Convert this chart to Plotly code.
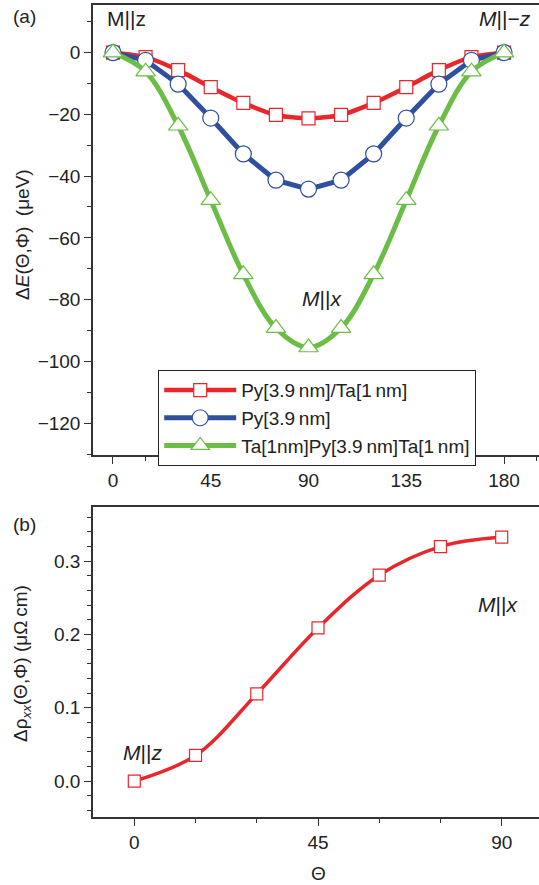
import plotly.graph_objects as go

# ---- data (a) ----
theta_a = [0, 15, 30, 45, 60, 75, 90, 105, 120, 135, 150, 165, 180]
e_pyta = [0, -1.5, -5.7, -11.2, -16.3, -20.2, -21.3, -20.2, -16.3, -11.2, -5.7, -1.5, 0]
e_py = [0, -2.5, -10.2, -21.2, -32.8, -41.3, -44.2, -41.3, -32.8, -21.2, -10.2, -2.5, 0]
e_tapyta = [0, -6.2, -23.7, -47.8, -71.8, -89.2, -95.5, -89.2, -71.8, -47.8, -23.7, -6.2, 0]
names_a = ["Py[3.9\u2009nm]/Ta[1\u2009nm]", "Py[3.9\u2009nm]", "Ta[1nm]Py[3.9\u2009nm]Ta[1\u2009nm]"]
xticks_a = [0, 45, 90, 135, 180]
yticks_a = [0, -20, -40, -60, -80, -100, -120]

# ---- data (b) ----
theta_b = [0, 15, 30, 45, 60, 75, 90]
rho_b = [0.0, 0.035, 0.119, 0.209, 0.281, 0.320, 0.333]
xticks_b = [0, 45, 90]
yticks_b = [0.0, 0.1, 0.2, 0.3]

RED = "#e8262b"
BLUE = "#2f4f9f"
GREEN = "#6bbd45"
FONT = "Liberation Sans, Arial, sans-serif"
W, H = 539, 885

fig = go.Figure()
fig.add_trace(go.Scatter(x=theta_a, y=e_pyta, name=names_a[0], mode="lines+markers",
                         line=dict(color=RED, width=4.5, shape="spline", smoothing=0.6),
                         marker=dict(symbol="square", size=13, color="white", line=dict(color=RED, width=1.2)),
                         xaxis="x", yaxis="y"))
fig.add_trace(go.Scatter(x=theta_a, y=e_py, name=names_a[1], mode="lines+markers",
                         line=dict(color=BLUE, width=5),
                         marker=dict(symbol="circle", size=16, color="white", line=dict(color=BLUE, width=1.2)),
                         xaxis="x", yaxis="y"))
fig.add_trace(go.Scatter(x=theta_a, y=e_tapyta, name=names_a[2], mode="lines+markers",
                         line=dict(color=GREEN, width=5, shape="spline", smoothing=1.0),
                         marker=dict(symbol="triangle-up", size=17, color="white", line=dict(color=GREEN, width=1.2)),
                         xaxis="x", yaxis="y"))
fig.add_trace(go.Scatter(x=theta_b, y=rho_b, mode="lines+markers", showlegend=False,
                         line=dict(color=RED, width=3.5, shape="spline", smoothing=1.0),
                         marker=dict(symbol="square", size=12, color="white", line=dict(color=RED, width=1.2)),
                         xaxis="x2", yaxis="y2"))

def py(px):
    return 1 - px / H

axis_common = dict(showgrid=False, zeroline=False, showline=True, linecolor="#333", linewidth=1.5,
                   ticks="outside", ticklen=7, tickwidth=1.3, tickcolor="#333",
                   tickfont=dict(family=FONT, size=19, color="#222"))

fig.update_layout(
    width=W, height=H, margin=dict(l=0, r=0, t=0, b=0),
    paper_bgcolor="white", plot_bgcolor="white",
    font=dict(family=FONT, color="#222"),
    xaxis=dict(domain=[93 / W, 1], range=[-9.2, 196.1], tickvals=xticks_a, mirror=True,
               minor=dict(dtick=15, tick0=0, ticklen=4, tickcolor="#333", ticks="outside"),
               anchor="y", **axis_common),
    yaxis=dict(domain=[py(455), py(5)], range=[-130.3, 15.4], tickvals=yticks_a,
               minor=dict(dtick=10, tick0=0, ticklen=4, tickcolor="#333", ticks="outside"),
               anchor="x", **axis_common),
    xaxis2=dict(domain=[93 / W, 1], range=[-10.12, 99.14], tickvals=xticks_b, mirror=True,
                minor=dict(dtick=15, tick0=0, ticklen=4, tickcolor="#333", ticks="outside"),
                anchor="y2", **axis_common),
    yaxis2=dict(domain=[py(817), py(507)], range=[-0.049, 0.374], tickvals=yticks_b, tickformat=".1f",
                minor=dict(dtick=0.02, tick0=0, ticklen=4, tickcolor="#333", ticks="outside"),
                anchor="x2", **axis_common),
    legend=dict(x=158 / W, y=py(370), xanchor="left", yanchor="top",
                bordercolor="#222", borderwidth=1.2, bgcolor="white",
                font=dict(family=FONT, size=19, color="#222"),
                itemwidth=72, tracegroupgap=0),
)

def ann(text, x, y, size=21, angle=0, xanchor="center"):
    fig.add_annotation(text=text, x=x / W, y=py(y), xref="paper", yref="paper", showarrow=False,
                       textangle=angle, xanchor=xanchor, yanchor="middle",
                       font=dict(family=FONT, size=size, color="#222"))

ann("(a)", 25, 17, size=19)
ann("(b)", 25, 524, size=19)
ann("M||z", 126, 18)
ann("<i>M</i>||\u2212<i>z</i>", 505, 18)
ann("<i>M</i>||<i>x</i>", 322, 298)
ann("<i>M</i>||<i>z</i>", 142, 752)
ann("<i>M</i>||<i>x</i>", 498, 604)
ann("\u0394<i>E</i>(\u0398,\u03a6)  (\u03bceV)", 22, 235, size=19, angle=-90)
ann("\u0394\u03c1<sub><i>xx</i></sub>(\u0398,\u03a6) (\u03bc\u03a9\u2009cm)", 22, 664, size=19, angle=-90)
ann("\u0398", 318, 873, size=19)

fig.write_html("out.html")
